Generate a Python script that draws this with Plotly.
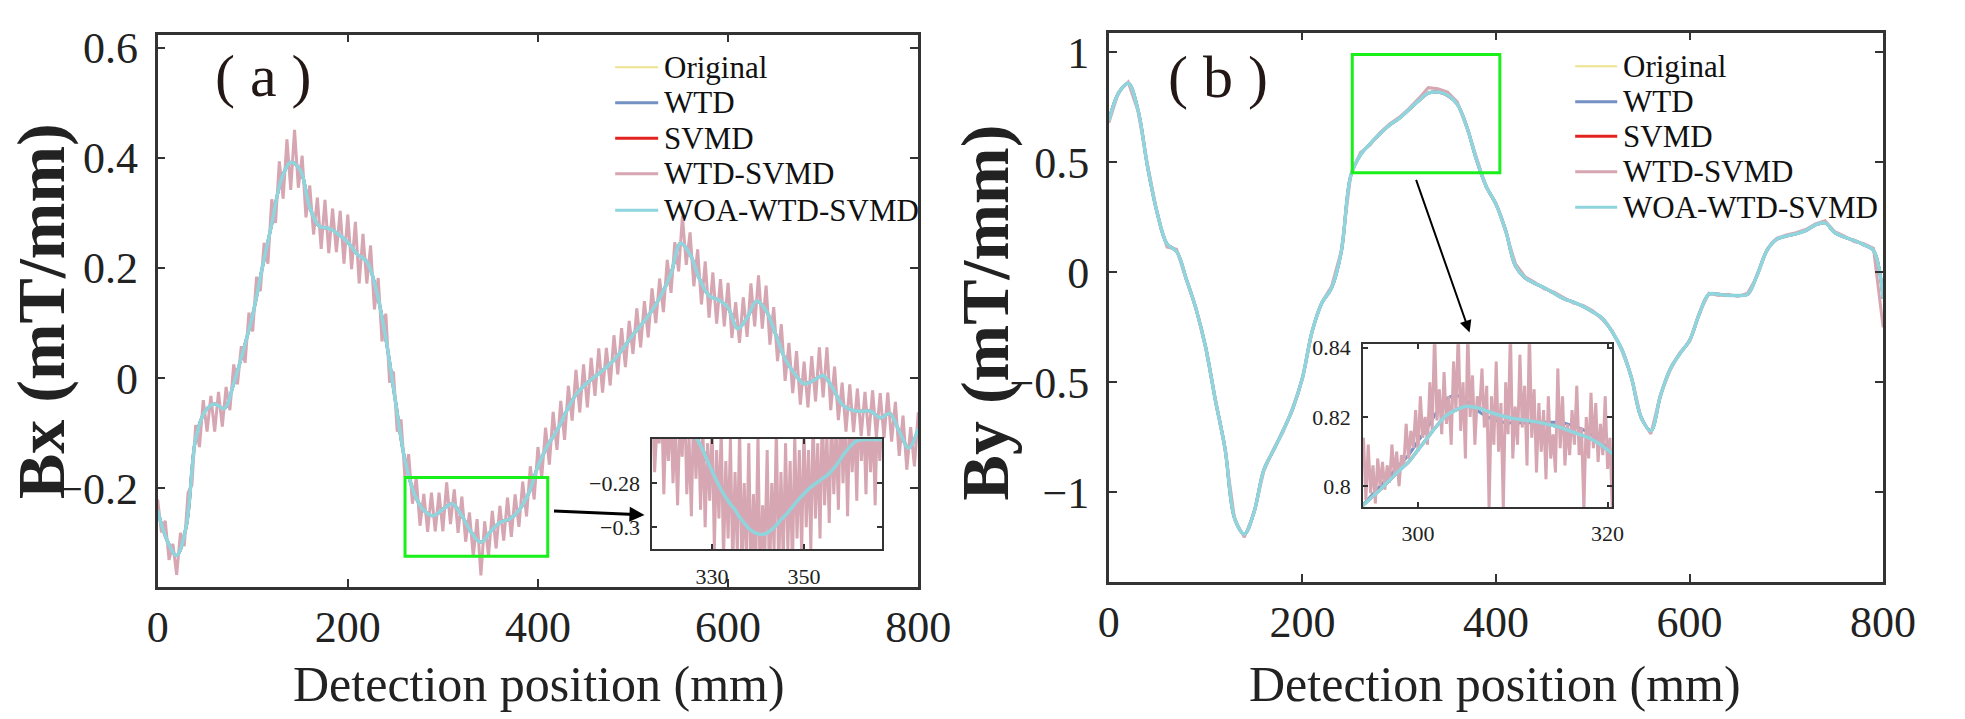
import plotly.graph_objects as go

W, H = 1965, 719
FONT = "Liberation Serif, Times New Roman, serif"

# ---------------- Panel (a): Bx ----------------
xa = list(range(0, 801, 10))
bx_woa = [-0.24, -0.295, -0.322, -0.27, -0.11, -0.06, -0.047, -0.055, -0.01, 0.05,
          0.115, 0.2, 0.28, 0.36, 0.392, 0.378, 0.31, 0.276, 0.272, 0.262,
          0.247, 0.225, 0.212, 0.16, 0.072, -0.04, -0.148, -0.21, -0.24, -0.25,
          -0.238, -0.228, -0.25, -0.28, -0.298, -0.279, -0.262, -0.256, -0.24, -0.21,
          -0.16, -0.123, -0.095, -0.06, -0.03, -0.011, 0.003, 0.017, 0.033, 0.055,
          0.079, 0.1, 0.123, 0.152, 0.19, 0.245, 0.225, 0.18, 0.15, 0.142,
          0.128, 0.09, 0.11, 0.14, 0.123, 0.08, 0.035, 0.008, -0.01, -0.004,
          0.005, -0.018, -0.048, -0.058, -0.06, -0.06, -0.072, -0.064, -0.096, -0.127,
          -0.092]
bx_wtd = bx_woa
bx_svmd = bx_woa

xa_noisy = list(range(0, 801, 4))
bx_wtd_svmd = [-0.220, -0.280, -0.259, -0.330, -0.301, -0.357, -0.281, -0.305, -0.208, -0.194,
               -0.085, -0.125, -0.040, -0.097, -0.032, -0.097, -0.025, -0.088, -0.016, -0.058,
               0.025, -0.011, 0.058, 0.028, 0.119, 0.085, 0.184, 0.158, 0.246, 0.208,
               0.325, 0.282, 0.394, 0.326, 0.434, 0.342, 0.451, 0.346, 0.404, 0.292,
               0.350, 0.261, 0.328, 0.235, 0.324, 0.227, 0.308, 0.229, 0.304, 0.208,
               0.297, 0.198, 0.284, 0.172, 0.262, 0.172, 0.241, 0.125, 0.182, 0.067,
               0.117, -0.008, 0.012, -0.097, -0.075, -0.178, -0.138, -0.228, -0.181, -0.268,
               -0.210, -0.279, -0.208, -0.278, -0.208, -0.278, -0.189, -0.265, -0.202, -0.281,
               -0.215, -0.297, -0.244, -0.324, -0.256, -0.358, -0.260, -0.323, -0.241, -0.309,
               -0.232, -0.295, -0.217, -0.288, -0.211, -0.270, -0.188, -0.251, -0.160, -0.220,
               -0.125, -0.180, -0.090, -0.157, -0.061, -0.130, -0.041, -0.112, -0.014, -0.077,
               0.015, -0.062, 0.025, -0.053, 0.037, -0.032, 0.054, -0.026, 0.055, -0.013,
               0.078, 0.007, 0.091, 0.020, 0.104, 0.044, 0.127, 0.056, 0.140, 0.074,
               0.163, 0.100, 0.181, 0.120, 0.215, 0.155, 0.247, 0.194, 0.295, 0.206,
               0.265, 0.167, 0.234, 0.134, 0.212, 0.110, 0.192, 0.099, 0.180, 0.094,
               0.173, 0.073, 0.138, 0.064, 0.147, 0.075, 0.172, 0.094, 0.187, 0.090,
               0.168, 0.061, 0.129, 0.031, 0.098, -0.005, 0.064, -0.027, 0.049, -0.048,
               0.030, -0.053, 0.040, -0.042, 0.056, -0.035, 0.056, -0.058, 0.021, -0.076,
               -0.008, -0.097, -0.011, -0.098, -0.019, -0.105, -0.025, -0.105, -0.022, -0.107,
               -0.027, -0.109, -0.026, -0.115, -0.043, -0.141, -0.068, -0.166, -0.089, -0.160,
               -0.062]
bx_original = bx_wtd_svmd

# inset (a)
xa_in = list(range(317, 368))
bx_in_woa = [-0.236, -0.239, -0.242, -0.245, -0.247, -0.249, -0.251, -0.253, -0.255, -0.2575,
             -0.261, -0.265, -0.270, -0.2745, -0.279, -0.283, -0.2865, -0.2895, -0.292, -0.2955,
             -0.298, -0.3005, -0.302, -0.303, -0.3032, -0.3025, -0.301, -0.299, -0.2965, -0.2945,
             -0.292, -0.2895, -0.287, -0.2848, -0.2827, -0.281, -0.2795, -0.278, -0.2765, -0.2745,
             -0.272, -0.269, -0.266, -0.2635, -0.2615, -0.2605, -0.2603, -0.2602, -0.2602, -0.2602,
             -0.2602]
bx_in_wtd = bx_in_woa
bx_in_svmd = bx_in_woa
xa_in_noisy = [317 + 0.5 * i for i in range(101)]
bx_in_wtd_svmd = [-0.25, -0.275, -0.255, -0.262, -0.24, -0.285, -0.25, -0.27, -0.245, -0.28,
                  -0.255, -0.29, -0.25, -0.268, -0.235, -0.285, -0.26, -0.295, -0.245, -0.278,
                  -0.25, -0.292, -0.255, -0.30, -0.262, -0.288, -0.25, -0.31, -0.265, -0.296,
                  -0.255, -0.315, -0.27, -0.305, -0.26, -0.318, -0.275, -0.312, -0.255, -0.32,
                  -0.28, -0.315, -0.262, -0.325, -0.285, -0.318, -0.258, -0.33, -0.29, -0.312,
                  -0.265, -0.325, -0.28, -0.31, -0.255, -0.32, -0.275, -0.315, -0.262, -0.31,
                  -0.27, -0.32, -0.258, -0.305, -0.265, -0.312, -0.255, -0.30, -0.265, -0.31,
                  -0.25, -0.296, -0.262, -0.305, -0.245, -0.29, -0.258, -0.298, -0.248, -0.285,
                  -0.255, -0.292, -0.24, -0.28, -0.25, -0.295, -0.245, -0.275, -0.25, -0.288,
                  -0.24, -0.27, -0.248, -0.285, -0.245, -0.275, -0.25, -0.29, -0.245, -0.27,
                  -0.25]
bx_in_original = bx_in_wtd_svmd

# ---------------- Panel (b): By ----------------
xb = list(range(0, 801, 10))
by_woa = [0.69, 0.815, 0.86, 0.74, 0.48, 0.27, 0.13, 0.095, -0.03, -0.165,
          -0.34, -0.58, -0.80, -1.12, -1.19, -1.09, -0.90, -0.81, -0.72, -0.62,
          -0.48, -0.27, -0.14, -0.072, 0.09, 0.44, 0.535, 0.585, 0.63, 0.67,
          0.70, 0.74, 0.78, 0.815, 0.82, 0.805, 0.765, 0.66, 0.51, 0.39,
          0.31, 0.19, 0.03, -0.025, -0.05, -0.07, -0.095, -0.12, -0.135, -0.155,
          -0.18, -0.21, -0.27, -0.35, -0.48, -0.66, -0.72, -0.56, -0.44, -0.37,
          -0.31, -0.19, -0.10, -0.10, -0.105, -0.105, -0.10, -0.01, 0.10, 0.15,
          0.165, 0.175, 0.19, 0.215, 0.225, 0.18, 0.16, 0.145, 0.125, 0.10,
          -0.12]
by_wtd = by_woa
by_svmd = by_woa
by_wtd_svmd = [0.68, 0.82, 0.865, 0.735, 0.49, 0.265, 0.115, 0.105, -0.035, -0.16,
               -0.345, -0.575, -0.805, -1.125, -1.205, -1.095, -0.905, -0.805, -0.725, -0.615,
               -0.485, -0.265, -0.135, -0.065, 0.095, 0.445, 0.545, 0.58, 0.635, 0.675,
               0.705, 0.745, 0.79, 0.84, 0.835, 0.82, 0.775, 0.655, 0.515, 0.385,
               0.315, 0.185, 0.04, -0.02, -0.045, -0.075, -0.09, -0.115, -0.14, -0.15,
               -0.175, -0.215, -0.265, -0.355, -0.475, -0.665, -0.735, -0.555, -0.445, -0.365,
               -0.315, -0.185, -0.095, -0.105, -0.10, -0.11, -0.095, -0.015, 0.105, 0.155,
               0.17, 0.18, 0.195, 0.22, 0.235, 0.185, 0.165, 0.14, 0.13, 0.11,
               -0.25]
by_original = by_wtd_svmd

# inset (b)
xb_in = list(range(294, 322))
by_in_woa = [0.794, 0.7965, 0.799, 0.8017, 0.8045, 0.807, 0.8105, 0.814, 0.8175, 0.8205,
             0.822, 0.823, 0.8228, 0.822, 0.821, 0.8202, 0.8196, 0.8192, 0.8188, 0.8183,
             0.8177, 0.817, 0.816, 0.815, 0.814, 0.8125, 0.8105, 0.8085]
by_in_wtd = [0.794, 0.797, 0.800, 0.803, 0.806, 0.809, 0.813, 0.817, 0.8215, 0.8252,
             0.8262, 0.825, 0.8225, 0.8205, 0.8192, 0.8185, 0.8183, 0.8183, 0.8184, 0.8185,
             0.8185, 0.8184, 0.8178, 0.8168, 0.8155, 0.8135, 0.811, 0.8085]
by_in_svmd = by_in_woa
xb_in_noisy = [294.25 + 0.25 * i for i in range(106)]
by_in_wtd_svmd = [0.814, 0.796, 0.812, 0.798, 0.806, 0.795, 0.808, 0.800, 0.807, 0.799,
                  0.806, 0.801, 0.812, 0.803, 0.810, 0.800, 0.809, 0.806, 0.818, 0.808,
                  0.816, 0.811, 0.822, 0.810, 0.826, 0.814, 0.820, 0.812, 0.830, 0.816,
                  0.845, 0.819, 0.828, 0.815, 0.833, 0.818, 0.826, 0.812, 0.836, 0.822,
                  0.845, 0.816, 0.830, 0.808, 0.845, 0.820, 0.832, 0.812, 0.826, 0.822,
                  0.834, 0.817, 0.829, 0.793, 0.826, 0.812, 0.836, 0.810, 0.824, 0.793,
                  0.830, 0.815, 0.845, 0.808, 0.823, 0.812, 0.838, 0.817, 0.829, 0.806,
                  0.845, 0.814, 0.828, 0.804, 0.824, 0.810, 0.822, 0.802, 0.826, 0.808,
                  0.815, 0.804, 0.834, 0.811, 0.826, 0.806, 0.818, 0.809, 0.822, 0.812,
                  0.829, 0.809, 0.817, 0.793, 0.820, 0.808, 0.827, 0.811, 0.824, 0.807,
                  0.818, 0.809, 0.826, 0.805, 0.814, 0.793]
by_in_original = by_in_wtd_svmd

series_names = ["Original", "WTD", "SVMD", "WTD-SVMD", "WOA-WTD-SVMD"]
colors = {"Original": "#EDE38E", "WTD": "#7391C2", "SVMD": "#E3231F",
          "WTD-SVMD": "#D6A7B2", "WOA-WTD-SVMD": "#8FD5DE"}
widths = {"Original": 1.5, "WTD": 3, "SVMD": 3, "WTD-SVMD": 3, "WOA-WTD-SVMD": 3.5}

def px(x):
    return x / W

def py(y):
    return 1 - y / H

fig = go.Figure()

def add_set(xs_noisy, orig, xs, wtd, svmd, xs_n2, wtdsvmd, xs_s, woa, xax, yax, smooth=True):
    shp = "spline" if smooth else "linear"
    fig.add_trace(go.Scatter(x=xs_noisy, y=orig, name="Original", mode="lines",
                             line=dict(color=colors["Original"], width=widths["Original"]),
                             xaxis=xax, yaxis=yax, showlegend=False))
    fig.add_trace(go.Scatter(x=xs, y=wtd, name="WTD", mode="lines",
                             line=dict(color=colors["WTD"], width=widths["WTD"], shape=shp),
                             xaxis=xax, yaxis=yax, showlegend=False))
    fig.add_trace(go.Scatter(x=xs, y=svmd, name="SVMD", mode="lines",
                             line=dict(color=colors["SVMD"], width=widths["SVMD"], shape=shp),
                             xaxis=xax, yaxis=yax, showlegend=False))
    fig.add_trace(go.Scatter(x=xs_n2, y=wtdsvmd, name="WTD-SVMD", mode="lines",
                             line=dict(color=colors["WTD-SVMD"], width=widths["WTD-SVMD"]),
                             xaxis=xax, yaxis=yax, showlegend=False))
    fig.add_trace(go.Scatter(x=xs_s, y=woa, name="WOA-WTD-SVMD", mode="lines",
                             line=dict(color=colors["WOA-WTD-SVMD"], width=widths["WOA-WTD-SVMD"], shape=shp),
                             xaxis=xax, yaxis=yax, showlegend=False))

add_set(xa_noisy, bx_original, xa, bx_wtd, bx_svmd, xa_noisy, bx_wtd_svmd, xa, bx_woa, "x", "y")
add_set(xb, by_original, xb, by_wtd, by_svmd, xb, by_wtd_svmd, xb, by_woa, "x2", "y2")
add_set(xa_in_noisy, bx_in_original, xa_in, bx_in_wtd, bx_in_svmd, xa_in_noisy, bx_in_wtd_svmd,
        xa_in, bx_in_woa, "x3", "y3")
add_set(xb_in_noisy, by_in_original, xb_in, by_in_wtd, by_in_svmd, xb_in_noisy, by_in_wtd_svmd,
        xb_in, by_in_woa, "x4", "y4")

AX = "#333333"
def axis(domain, rng, tickvals, anchor, size=44, standoff=0, ticklen=8, lw=2.5, ticktext=None):
    d = dict(domain=domain, range=rng, tickvals=tickvals, anchor=anchor,
             showline=True, mirror="ticks", linecolor=AX, linewidth=lw,
             ticks="inside", ticklen=ticklen, tickwidth=2, tickcolor=AX,
             showgrid=False, zeroline=False,
             tickfont=dict(family=FONT, size=size, color="#222222"),
             ticklabelstandoff=standoff)
    if ticktext is not None:
        d["ticktext"] = ticktext
    return d

fig.update_layout(
    width=W, height=H, autosize=False,
    margin=dict(l=0, r=0, t=0, b=0),
    paper_bgcolor="white", plot_bgcolor="white",
    showlegend=False,
    xaxis=axis([px(150), px(928)], [0, 800], [0, 200, 400, 600, 800], "y", standoff=0),
    yaxis=axis([py(585), py(25)], [-0.379, 0.624], [-0.2, 0, 0.2, 0.4, 0.6], "x", standoff=8,
               ticktext=["\u22120.2", "0", "0.2", "0.4", "0.6"]),
    xaxis2=axis([px(1123), px(1915)], [0, 800], [0, 200, 400, 600, 800], "y2", standoff=0),
    yaxis2=axis([py(580), py(23)], [-1.408, 1.09], [-1, -0.5, 0, 0.5, 1], "x2", standoff=8,
                ticktext=["\u22121", "\u22120.5", "0", "0.5", "1"]),
    xaxis3=axis([px(656), px(891)], [317, 367], [330, 350], "y3", size=22, standoff=6,
                ticklen=5, lw=2),
    yaxis3=axis([py(547), py(435)], [-0.31, -0.26], [-0.3, -0.28], "x3", size=22, standoff=6,
                ticklen=5, lw=2, ticktext=["\u22120.3", "\u22120.28"]),
    xaxis4=axis([px(1383), px(1638)], [294.2, 320.5], [300, 320], "y4", size=22, standoff=6,
                ticklen=5, lw=2),
    yaxis4=axis([py(504), py(339)], [0.794, 0.841], [0.8, 0.82, 0.84], "x4", size=22, standoff=6,
                ticklen=5, lw=2, ticktext=["0.8", "0.82", "0.84"]),
)

# green zoom boxes
fig.add_shape(type="rect", xref="x", yref="y", x0=260.2, x1=410.3, y0=-0.3235, y1=-0.1803,
              line=dict(color="#19F019", width=3))
fig.add_shape(type="rect", xref="x2", yref="y2", x0=251.5, x1=404, y0=0.453, y1=0.991,
              line=dict(color="#19F019", width=3))

annotations = []
# arrows
annotations.append(dict(x=px(648), y=py(512), xref="paper", yref="paper", text="",
                        showarrow=True, ax=556 - 648, ay=508 - 512, axref="pixel", ayref="pixel",
                        arrowhead=2, arrowsize=1, arrowwidth=3, arrowcolor="black"))
annotations.append(dict(x=px(1492), y=py(327), xref="paper", yref="paper", text="",
                        showarrow=True, ax=1438 - 1492, ay=173 - 327, axref="pixel", ayref="pixel",
                        arrowhead=2, arrowsize=1.2, arrowwidth=2, arrowcolor="black"))

def label(x, y, text, size, color="#222222", angle=0, xanchor="center"):
    return dict(x=px(x), y=py(y), xref="paper", yref="paper", text=text, textangle=angle,
                xanchor=xanchor, yanchor="middle", showarrow=False,
                font=dict(family=FONT, size=size, color=color))

# panel labels
annotations.append(label(258, 67, "( a )", 60, "#231815"))
annotations.append(label(1235, 68, "( b )", 60, "#231815"))
# axis titles
annotations.append(label(540, 683, "Detection position (mm)", 50))
annotations.append(label(1518, 683, "Detection position (mm)", 50))
annotations.append(label(30, 305, "<b>Bx (mT/mm)</b>", 68, angle=-90))
annotations.append(label(996, 307, "<b>By (mT/mm)</b>", 68, angle=-90))

# manual legends
legend_specs = [
    (618, 662, 666, [58, 94, 130, 166, 203]),
    (1600, 1643, 1647, [57, 93, 128, 164, 200]),
]
for lx0, lx1, tx, rows in legend_specs:
    for name, ry in zip(series_names, rows):
        fig.add_shape(type="line", xref="paper", yref="paper",
                      x0=px(lx0), x1=px(lx1), y0=py(ry), y1=py(ry),
                      line=dict(color=colors[name], width=3 if name != "Original" else 2))
        annotations.append(label(tx, ry, name, 31, "#111111", xanchor="left"))

fig.update_layout(annotations=annotations)
fig.write_html("out.html")
